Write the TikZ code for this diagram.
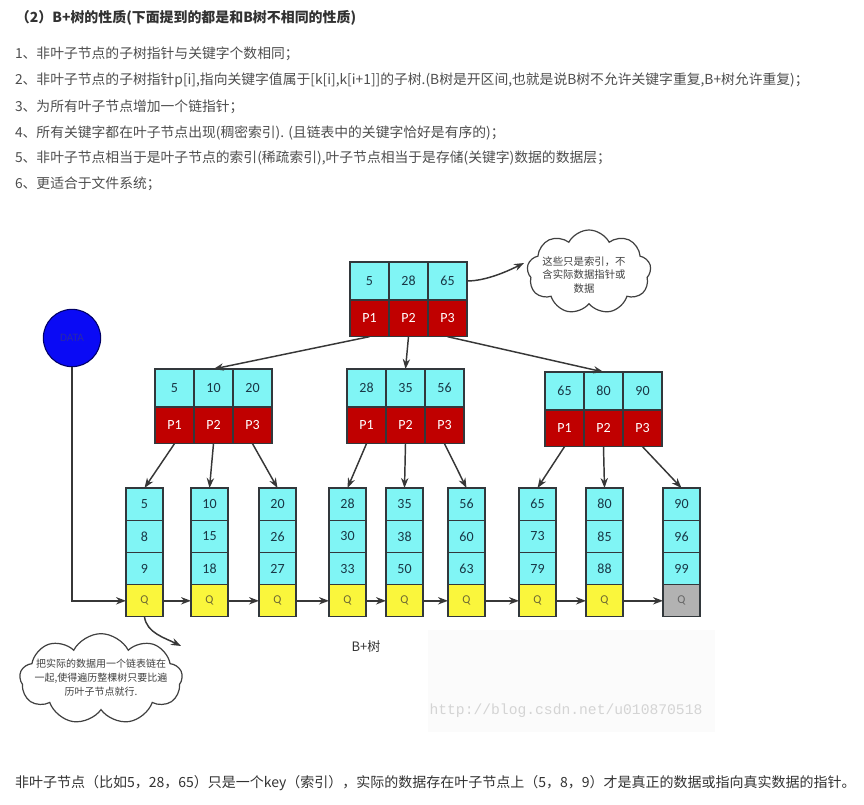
\documentclass[tikz,border=0pt]{standalone}
\usepackage{fontspec}
\setmainfont{Carlito}
\newfontfamily\cjk{Noto Sans CJK SC}
\newfontfamily\monofont{Liberation Mono}
\usetikzlibrary{arrows.meta,shapes.symbols}

\definecolor{keyC}{RGB}{128,245,245}
\definecolor{ptrC}{RGB}{192,0,0}
\definecolor{qC}{RGB}{250,246,60}
\definecolor{qLast}{RGB}{178,178,178}
\definecolor{edgeC}{RGB}{50,56,60}
\definecolor{keyT}{RGB}{25,55,70}
\definecolor{qT}{RGB}{110,105,50}
\definecolor{arrowC}{RGB}{55,55,55}
\definecolor{bodyT}{RGB}{77,77,77}
\definecolor{headT}{RGB}{50,50,50}
\definecolor{dataC}{RGB}{10,10,245}
\definecolor{dataT}{RGB}{40,40,170}
\definecolor{markT}{RGB}{212,212,212}
\definecolor{backC}{RGB}{251,251,251}

\begin{document}
\begin{tikzpicture}[x=0.75pt,y=-0.75pt,
  every node/.style={inner sep=0pt,outer sep=0pt},
  key/.style={draw=edgeC,line width=0.9pt,fill=keyC,anchor=north west,
    minimum width=29.25pt,minimum height=28.5pt,text=keyT,
    font=\fontsize{10.5pt}{12pt}\selectfont},
  ptr/.style={draw=edgeC,line width=0.9pt,fill=ptrC,anchor=north west,
    minimum width=29.25pt,minimum height=27.5pt,text=white,
    font=\fontsize{10.5pt}{12pt}\selectfont},
  leaf/.style={draw=edgeC,line width=0.9pt,fill=keyC,anchor=north west,
    minimum width=27.75pt,minimum height=24.2pt,text=keyT,
    font=\fontsize{10.5pt}{12pt}\selectfont},
  qcell/.style={draw=edgeC,line width=0.9pt,fill=qC,anchor=north west,
    minimum width=27.75pt,minimum height=24pt,text=qT,
    font=\fontsize{9pt}{11pt}\selectfont},
  qend/.style={qcell,fill=qLast,text=black!60},
  arr/.style={draw=arrowC,line width=1.1pt,-{Stealth[length=7.5pt,width=5.5pt]}},
  body/.style={anchor=west,text=bodyT,font=\cjk\fontsize{10.35pt}{12pt}\selectfont},
  note/.style={cloud,cloud puffs=9,cloud puff arc=125,draw=black!75,
    line width=0.9pt,fill=white},
  notetext/.style={align=center,text=black!75,
    font=\cjk\fontsize{7.8pt}{10.4pt}\selectfont}
]
\useasboundingbox (0,0) rectangle (864,805);

% heading and list of properties
\node[anchor=west,text=headT,font=\cjk\bfseries\fontsize{10.45pt}{12pt}\selectfont] (title) at (16,18)
  {（2）B+树的性质(下面提到的都是和B树不相同的性质)};
\node[body] (p1) at (15,54) {1、非叶子节点的子树指针与关键字个数相同；};
\node[body] (p2) at (15,80) {2、非叶子节点的子树指针p[i],指向关键字值属于[k[i],k[i+1]]的子树.(B树是开区间,也就是说B树不允许关键字重复,B+树允许重复)；};
\node[body] (p3) at (15,107) {3、为所有叶子节点增加一个链指针；};
\node[body] (p4) at (15,133) {4、所有关键字都在叶子节点出现(稠密索引). (且链表中的关键字恰好是有序的)；};
\node[body] (p5) at (15,158) {5、非叶子节点相当于是叶子节点的索引(稀疏索引),叶子节点相当于是存储(关键字)数据的数据层；};
\node[body] (p6) at (15,184) {6、更适合于文件系统；};

% faint backdrop behind the watermark
\fill[backC] (428,630) rectangle (715,732);

% root node
\node[key] (r-k1) at (350,262) {5};
\node[key] (r-k2) at (389,262) {28};
\node[key] (r-k3) at (428,262) {65};
\node[ptr] (r-p1) at (350,300) {P1};
\node[ptr] (r-p2) at (389,300) {P2};
\node[ptr] (r-p3) at (428,300) {P3};

% second level
\node[key] (a-k1) at (155,369) {5};
\node[key] (a-k2) at (194,369) {10};
\node[key] (a-k3) at (233,369) {20};
\node[ptr] (a-p1) at (155,407) {P1};
\node[ptr] (a-p2) at (194,407) {P2};
\node[ptr] (a-p3) at (233,407) {P3};

\node[key] (b-k1) at (347,369) {28};
\node[key] (b-k2) at (386,369) {35};
\node[key] (b-k3) at (425,369) {56};
\node[ptr] (b-p1) at (347,407) {P1};
\node[ptr] (b-p2) at (386,407) {P2};
\node[ptr] (b-p3) at (425,407) {P3};

\node[key] (c-k1) at (545,372) {65};
\node[key] (c-k2) at (584,372) {80};
\node[key] (c-k3) at (623,372) {90};
\node[ptr] (c-p1) at (545,410) {P1};
\node[ptr] (c-p2) at (584,410) {P2};
\node[ptr] (c-p3) at (623,410) {P3};

% leaves
\foreach \i/\x/\a/\b/\c/\qs in {1/126/5/8/9/qcell, 2/191/10/15/18/qcell,
    3/259/20/26/27/qcell, 4/329/28/30/33/qcell, 5/386/35/38/50/qcell,
    6/448/56/60/63/qcell, 7/519/65/73/79/qcell, 8/586/80/85/88/qcell,
    9/663/90/96/99/qend}{
  \node[leaf] (l\i-1) at (\x,488) {\a};
  \node[leaf] (l\i-2) at (l\i-1.south west) {\b};
  \node[leaf] (l\i-3) at (l\i-2.south west) {\c};
  \node[\qs] (q\i) at (l\i-3.south west) {Q};
}

% root to second level
\draw[arr] (r-p1.south) -- (a-k2.north);
\draw[arr] (r-p2.south) -- (b-k2.north);
\draw[arr] (r-p3.south) -- (c-k2.north);

% second level to leaves
\draw[arr] (a-p1.south) -- (l1-1.north);
\draw[arr] (a-p2.south) -- (l2-1.north);
\draw[arr] (a-p3.south) -- (l3-1.north);
\draw[arr] (b-p1.south) -- (l4-1.north);
\draw[arr] (b-p2.south) -- (l5-1.north);
\draw[arr] (b-p3.south) -- (l6-1.north);
\draw[arr] (c-p1.south) -- (l7-1.north);
\draw[arr] (c-p2.south) -- (l8-1.north);
\draw[arr] (c-p3.south) -- (l9-1.north);

% linked list along the leaves
\foreach \i/\j in {1/2,2/3,3/4,4/5,5/6,6/7,7/8,8/9}
  \draw[arr] (q\i.east) -- (q\j.west);

% entry point
\node[circle,draw=black!60!blue,line width=0.8pt,fill=dataC,minimum size=43pt,
  text=dataT,font=\fontsize{8.5pt}{10pt}\selectfont] (data) at (72,338) {DATA};
\draw[arr] (data.south) |- (q1.west);

% notes
\node[note,minimum width=93pt,minimum height=63pt] (note-top) at (589,272) {};
\node[notetext] (note-top-text) at (584,275) {这些只是索引，不\\含实际数据指针或\\数据};
\coordinate (tip-top) at (524,263);
\draw[arr] (r-k3.east) .. controls +(20,0) and +(-14,7) .. (tip-top);

\node[note,minimum width=122pt,minimum height=68pt] (note-bot) at (101,679) {};
\node[notetext,font=\cjk\fontsize{7.5pt}{10.5pt}\selectfont] (note-bot-text) at (101,678)
  {把实际的数据用一个链表链在\\一起,使得遍历整棵树只要比遍\\历叶子节点就行.};
\coordinate (tip-bot) at (181,646);
\draw[arr] (q1.south) .. controls +(2,16) and +(-16,-8) .. (tip-bot);

% captions
\node[text=black!80,font=\cjk\fontsize{9.75pt}{12pt}\selectfont] (cap) at (366,647) {B+树};
\node[text=markT,font=\monofont\fontsize{11pt}{12pt}\selectfont] (mark) at (566,711) {http://blog.csdn.net/u010870518};

% closing remark
\node[anchor=west,text=headT,font=\cjk\fontsize{10.5pt}{12pt}\selectfont] (remark) at (15,783)
  {非叶子节点（比如5，28，65）只是一个key（索引），实际的数据存在叶子节点上（5，8，9）才是真正的数据或指向真实数据的指针。};
\end{tikzpicture}
\end{document}
